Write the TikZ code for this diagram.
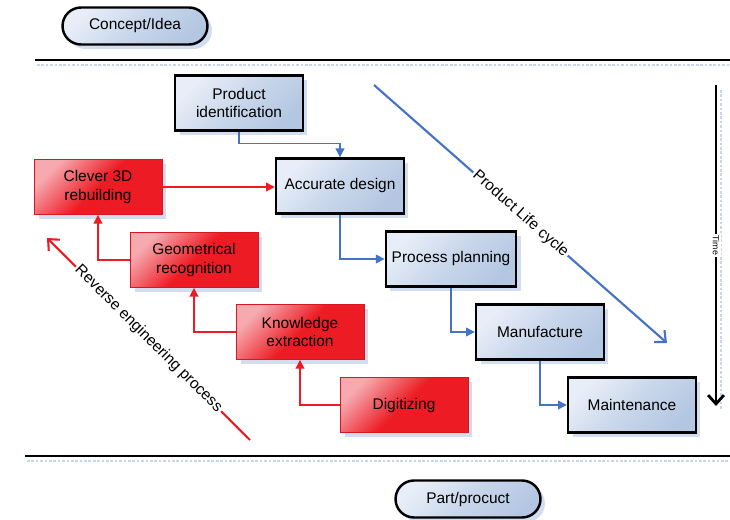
\documentclass[tikz,border=0pt]{standalone}
\usepackage{fontspec}
\setmainfont{Liberation Sans}
\usetikzlibrary{positioning, shadows, arrows.meta}
\usepackage{xcolor}
\definecolor{boxlight}{RGB}{232,238,248}
\definecolor{boxdark}{RGB}{180,199,226}
\definecolor{redlight}{RGB}{246,170,176}
\definecolor{reddark}{RGB}{237,28,36}
\definecolor{linkblue}{RGB}{68,114,196}
\definecolor{shadowblue}{RGB}{200,213,236}

\begin{document}
\begin{tikzpicture}[x=0.02cm, y=-0.02cm,
        every node/.style={font=\fontsize{8.8}{10.5}\selectfont, align=center},
        bshadow/.style={drop shadow={shadow xshift=0.09cm, shadow yshift=-0.09cm, fill=shadowblue, opacity=0.8}},
        lifebox/.style={rectangle, draw=black, line width=1.4pt, minimum width=2.56cm, minimum height=1.1cm,
            top color=boxlight, bottom color=boxdark, middle color=boxdark!60!boxlight, shading angle=45, bshadow},
        revbox/.style={rectangle, draw=reddark!90!black, line width=0.4pt, minimum width=2.56cm, minimum height=1.1cm,
            top color=redlight, bottom color=reddark, middle color=reddark, shading angle=45, bshadow},
        pill/.style={rectangle, rounded corners=0.37cm, draw=black, line width=1.4pt, minimum width=2.9cm, minimum height=0.74cm,
            top color=boxlight, bottom color=boxdark, middle color=boxdark!60!boxlight, shading angle=45, bshadow},
        bluelink/.style={draw=linkblue, line width=0.7pt, -{Triangle[length=5pt, width=5pt]}},
        redlink/.style={draw=reddark, line width=0.8pt, -{Triangle[length=5pt, width=5pt]}},
        barb/.style={-{Straight Barb[length=5pt, width=9pt]}},
        arrowlabel/.style={fill=white, inner sep=1pt, text=black}]
        \useasboundingbox (0,0) rectangle (730,520);

        % levels
        \node[pill] (idea) at (135,26) {Concept/Idea};
        \node[pill] (part) at (468,499) {Part/procuct};
        \draw[shadowblue, line width=1.5pt, densely dotted] (37,65) -- (730,65);
        \draw[line width=1.4pt] (35,60) -- (730,60);
        \draw[shadowblue, line width=1.5pt, densely dotted] (27,461) -- (730,461);
        \draw[line width=1.4pt] (25,456) -- (730,456);

        % forward chain
        \node[lifebox] (prodid) at (239,103) {Product\\identification};
        \node[lifebox] (design) at (340,186) {Accurate design};
        \node[lifebox] (plan) at (451,259) {Process planning};
        \node[lifebox] (manuf) at (540,332) {Manufacture};
        \node[lifebox] (maint) at (632,405) {Maintenance};
        \draw[bluelink] (prodid.south) |- ([yshift=0.28cm]design.north) -- (design.north);
        \draw[bluelink] (design.south) |- (plan.west);
        \draw[bluelink] (plan.south) |- (manuf.west);
        \draw[bluelink] (manuf.south) |- (maint.west);

        % reverse chain
        \node[revbox] (clever) at (98,187) {Clever 3D\\rebuilding};
        \node[revbox] (geo) at (194,260) {Geometrical\\recognition};
        \node[revbox] (know) at (300,332) {Knowledge\\extraction};
        \node[revbox] (digit) at (404,405) {Digitizing};
        \draw[redlink] (clever.east) -- (clever.east -| design.west);
        \draw[redlink] (geo.west) -| (clever.south);
        \draw[redlink] (know.west) -| (geo.south);
        \draw[redlink] (digit.west) -| (know.south);

        % process arrows
        \coordinate (lifeS) at (374,85);
        \coordinate (lifeE) at (667,343);
        \draw[linkblue, line width=1.2pt, barb] (lifeS) -- node[sloped, arrowlabel] {Product Life cycle} (lifeE);
        \coordinate (revS) at (250,440);
        \coordinate (revE) at (47,238);
        \draw[reddark, line width=1.2pt, barb] (revS) -- node[sloped, arrowlabel] {Reverse engineering process} (revE);
        \coordinate (timeS) at (716,85);
        \coordinate (timeE) at (716,406);
        \draw[shadowblue, line width=1.5pt, densely dotted] (721,90) -- (721,410);
        \draw[line width=1.6pt, barb] (timeS) -- node[rotate=-90, arrowlabel, font=\fontsize{5}{6}\selectfont] {Time} (timeE);
    \end{tikzpicture}
\end{document}
